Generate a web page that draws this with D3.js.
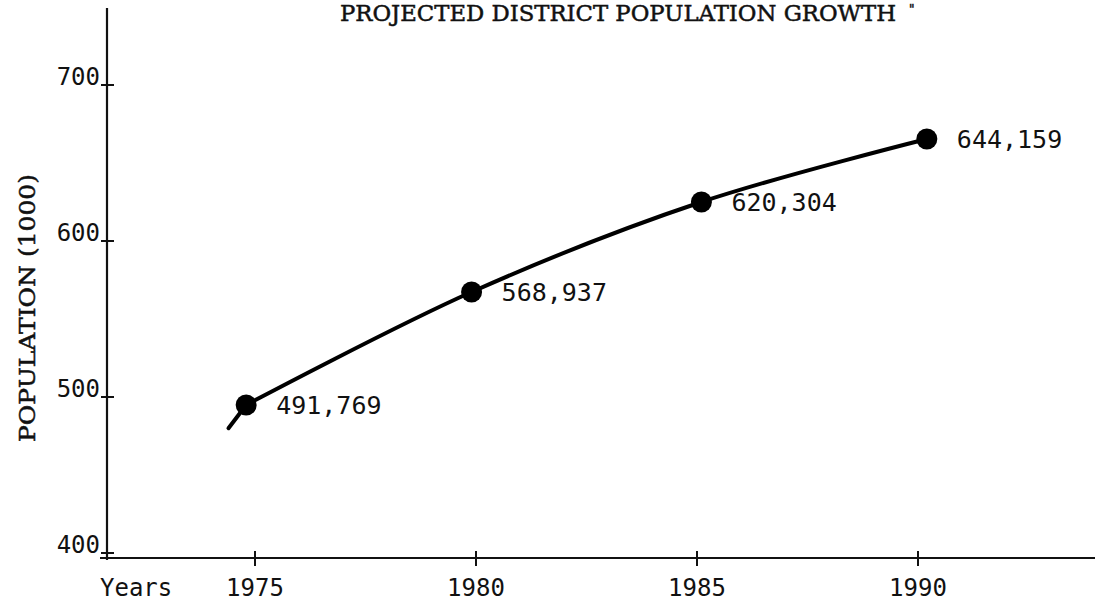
<!DOCTYPE html>
<html>
<head>
<meta charset="utf-8">
<script src="https://cdn.jsdelivr.net/npm/d3@7/dist/d3.min.js"></script>
<style>
    body { margin: 0; background: #fff; }
    .serifType { font-family: "DejaVu Serif", "Liberation Serif", serif; fill: #111; stroke: #111; stroke-width: 0.5px; }
    .sansType { font-family: "DejaVu Sans Mono", monospace; fill: #111; }
</style>
</head>
<body>
<div id="chart"></div>
<script>
// tick years on the x axis and tick values on the y axis (thousands)
let tickYears = [1975, 1980, 1985, 1990];
let tickValues = [400, 500, 600, 700];

// points as they are drawn on the sheet (year, population in thousands)
let pointYears = [1974.8, 1979.9, 1985.1, 1990.2];
let pointValues = [494.9, 567.3, 625, 665.4];
let pointLabels = ["491,769", "568,937", "620,304", "644,159"];

// the hand drawn line starts a little before the first point
let tailYear = 1974.4;
let tailValue = 480;

/** Class implementing the population growth chart. */
class PopulationChart {

    constructor(){
        this.width = 1105;
        this.height = 602;
        this.svg = d3.select("#chart").append("svg")
            .attr("width", this.width)
            .attr("height", this.height);
    }

    update(){
        let svg = this.svg;

        let xScale = d3.scaleLinear()
            .domain([1975, 1990])
            .range([255, 918]);
        let yScale = d3.scaleLinear()
            .domain([400, 700])
            .range([553, 85]);

        //axis lines
        svg.append("line")
            .attr("x1", 107).attr("x2", 107)
            .attr("y1", 8).attr("y2", 560)
            .attr("stroke", "#111").attr("stroke-width", 2.2);
        svg.append("line")
            .attr("x1", 100).attr("x2", 1095)
            .attr("y1", 558).attr("y2", 558)
            .attr("stroke", "#111").attr("stroke-width", 2.2);

        //y ticks
        let yTicks = svg.selectAll(".yTick").data(tickValues).enter().append("g")
            .attr("class", "yTick")
            .attr("transform", d => "translate(0," + yScale(d) + ")");
        yTicks.append("line")
            .attr("x1", 101).attr("x2", 114)
            .attr("stroke", "#111").attr("stroke-width", 2);
        yTicks.append("text")
            .attr("class", "sansType")
            .attr("x", 100)
            .attr("y", 0)
            .attr("text-anchor", "end")
            .style("font-size", "24px")
            .text(d => d);

        //x ticks
        let xTicks = svg.selectAll(".xTick").data(tickYears).enter().append("g")
            .attr("class", "xTick")
            .attr("transform", d => "translate(" + xScale(d) + ",0)");
        xTicks.append("line")
            .attr("y1", 551).attr("y2", 566)
            .attr("stroke", "#111").attr("stroke-width", 2);
        xTicks.append("text")
            .attr("class", "sansType")
            .attr("x", 0)
            .attr("y", 596)
            .attr("text-anchor", "middle")
            .style("font-size", "24px")
            .text(d => d);

        svg.append("text")
            .attr("class", "sansType")
            .attr("x", 100)
            .attr("y", 596)
            .style("font-size", "24px")
            .text("Years");

        //title and axis label, typewriter serif
        svg.append("text")
            .attr("class", "serifType")
            .attr("x", 340)
            .attr("y", 21)
            .attr("textLength", 556)
            .attr("lengthAdjust", "spacingAndGlyphs")
            .style("font-size", "23px")
            .text("PROJECTED DISTRICT POPULATION GROWTH");
        svg.append("text")
            .attr("class", "serifType")
            .attr("x", 909)
            .attr("y", 14)
            .style("font-size", "12px")
            .text("\"");

        svg.append("text")
            .attr("class", "serifType")
            .attr("transform", "translate(35,308) rotate(-90)")
            .attr("text-anchor", "middle")
            .attr("textLength", 268)
            .attr("lengthAdjust", "spacingAndGlyphs")
            .style("font-size", "22px")
            .text("POPULATION (1000)");

        //the line: a smooth curve through the points, plus the short tail
        let points = pointYears.map((y, i) => ({year: y, value: pointValues[i]}));
        let line = d3.line()
            .x(d => xScale(d.year))
            .y(d => yScale(d.value))
            .curve(d3.curveCatmullRom.alpha(0.5));
        svg.append("path")
            .datum(points)
            .attr("d", line)
            .attr("fill", "none")
            .attr("stroke", "#000")
            .attr("stroke-width", 4)
            .attr("stroke-linecap", "round");
        svg.append("path")
            .datum([{year: tailYear, value: tailValue}, points[0]])
            .attr("d", line.curve(d3.curveLinear))
            .attr("fill", "none")
            .attr("stroke", "#000")
            .attr("stroke-width", 4)
            .attr("stroke-linecap", "round");

        //points and labels
        svg.selectAll(".dot").data(points).enter().append("circle")
            .attr("class", "dot")
            .attr("cx", d => xScale(d.year))
            .attr("cy", d => yScale(d.value))
            .attr("r", 10.5)
            .attr("fill", "#000");

        svg.selectAll(".pointLabel").data(points).enter().append("text")
            .attr("class", "sansType pointLabel")
            .attr("x", d => xScale(d.year) + 30)
            .attr("y", d => yScale(d.value) + 9)
            .style("font-size", "25px")
            .text((d, i) => pointLabels[i]);
    }
}

let chart = new PopulationChart();
chart.update();
</script>
</body>
</html>
